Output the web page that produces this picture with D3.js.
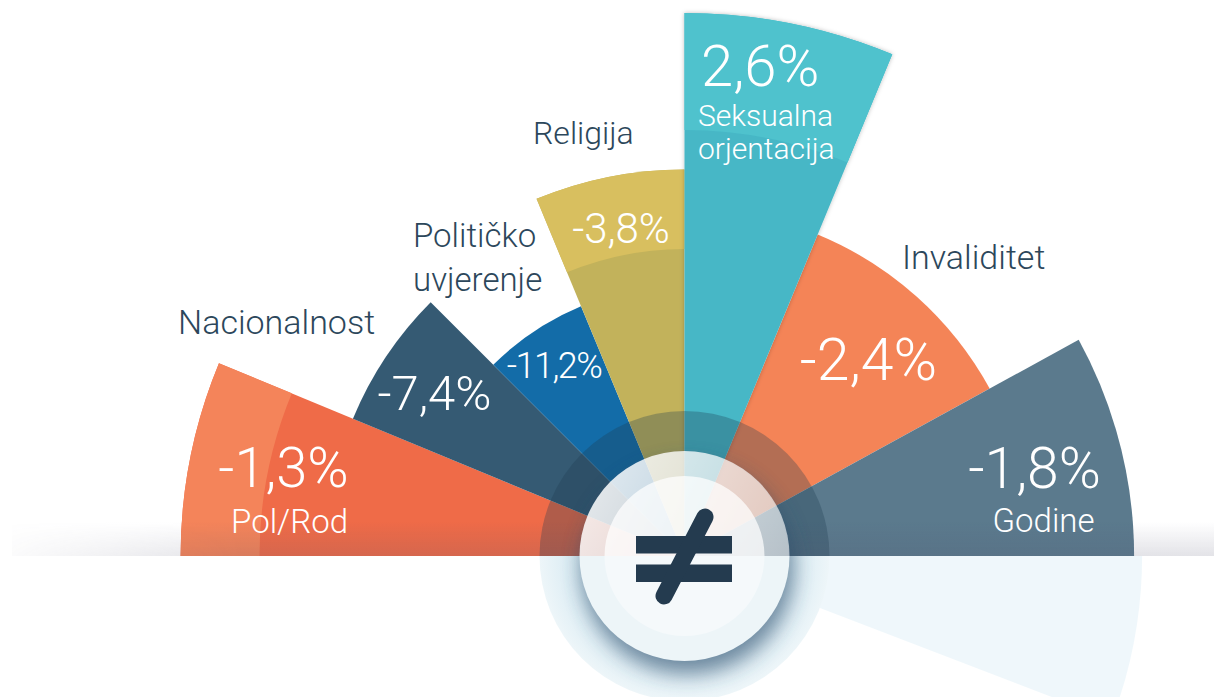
<!DOCTYPE html>
<html><head><meta charset="utf-8">
<script src="https://cdn.jsdelivr.net/npm/d3@7"></script>
<style>
html,body{margin:0;padding:0;background:#fff;}
svg{display:block;}
text{font-family:Roboto,"Open Sans",sans-serif;font-weight:300;}
</style></head><body>
<svg id="chart" width="1214" height="697"></svg>
<script>
// ---- data ----
const categories = ["Pol/Rod","Nacionalnost","Političko uvjerenje","Religija","Seksualna orjentacija","Invaliditet","Godine"];
const values = [-1.3, -7.4, -11.2, -3.8, 2.6, -2.4, -1.8];
const valueLabels = ["-1,3%","-7,4%","-11,2%","-3,8%","2,6%","-2,4%","-1,8%"];
const barLength = [92.8, 66.1, 49.8, 71.2, 100, 64.1, 82.8];      // relative bar length (0-100)
const angleShare = [22.5, 22.5, 22.5, 22.5, 22.5, 38.75, 49.75];  // angular share of each sector

// ---- layout / style ----
const W = 1214, H = 697, cx = 684.5, cy = 556;
const DARK = "#2c475b";
const fills = ["#ef6b48","#355a73","url(#gPol)","#c2b25b","#46b7c6","#f48457","#5b7a8d"];
const caps = [{r:425,c:"#f4845a"}, null, null, {r:307,c:"#d8bf5f"}, {r:426,c:"#4fc2cd"}, null, null];
const valueStyle = [
  {x:283.5, y:487, fs:56, a:"middle"},
  {x:434.5, y:410, fs:49, a:"middle"},
  {x:554,   y:378, fs:36, a:"middle", ls:-1.5},
  {x:621,   y:243, fs:42, a:"middle"},
  {x:701,   y:86,  fs:58, a:"start"},
  {x:868.5, y:380, fs:59, a:"middle"},
  {x:1034.5,y:488, fs:57, a:"middle"}
];
const catStyle = [
  {x:289.5, y:533, fs:33, a:"middle", fill:"#fff"},
  {x:178,   y:334, fs:34, a:"start",  fill:DARK},
  {x:413,   y:247, fs:33, a:"start",  fill:DARK, lh:44},
  {x:533,   y:144, fs:32, a:"start",  fill:DARK},
  {x:698,   y:126, fs:30, a:"start",  fill:"#fff", lh:33},
  {x:902,   y:269, fs:34, a:"start",  fill:DARK},
  {x:1043.5,y:532, fs:33, a:"middle", fill:"#fff"}
];

const svg = d3.select("#chart");
const defs = svg.append("defs");

defs.append("clipPath").attr("id","upper").append("rect")
  .attr("x",0).attr("y",0).attr("width",W).attr("height",cy);
defs.append("clipPath").attr("id","lower").append("rect")
  .attr("x",0).attr("y",cy).attr("width",W).attr("height",H-cy);

const gPol = defs.append("radialGradient").attr("id","gPol")
  .attr("gradientUnits","userSpaceOnUse").attr("cx",cx).attr("cy",cy).attr("r",272);
gPol.append("stop").attr("offset","0.5").attr("stop-color","#0a4c88");
gPol.append("stop").attr("offset","0.78").attr("stop-color","#0d5a99");
gPol.append("stop").attr("offset","0.8").attr("stop-color","#0f62a1");
gPol.append("stop").attr("offset","1").attr("stop-color","#136ca8");

const gRefl = defs.append("linearGradient").attr("id","gRefl")
  .attr("gradientUnits","userSpaceOnUse").attr("x1",0).attr("y1",cy).attr("x2",0).attr("y2",H);
gRefl.append("stop").attr("offset","0").attr("stop-color","#eff7fb");
gRefl.append("stop").attr("offset","1").attr("stop-color","#f8fcfd");

const gRing = defs.append("radialGradient").attr("id","gRing")
  .attr("gradientUnits","userSpaceOnUse").attr("cx",cx).attr("cy",cy).attr("r",146);
gRing.append("stop").attr("offset","0.7").attr("stop-color","#d4e8f1");
gRing.append("stop").attr("offset","1").attr("stop-color","#eef6f9");

const gShade = defs.append("linearGradient").attr("id","gShade")
  .attr("x1",0).attr("y1",0).attr("x2",0).attr("y2",1);
gShade.append("stop").attr("offset","0").attr("stop-color","#50506e").attr("stop-opacity",0);
gShade.append("stop").attr("offset","1").attr("stop-color","#50506e").attr("stop-opacity",0.16);
const gFadeX = defs.append("linearGradient").attr("id","gFadeX")
  .attr("gradientUnits","userSpaceOnUse").attr("x1",12).attr("y1",0).attr("x2",240).attr("y2",0);
gFadeX.append("stop").attr("offset","0").attr("stop-color","#fff").attr("stop-opacity",0.15);
gFadeX.append("stop").attr("offset","1").attr("stop-color","#fff").attr("stop-opacity",1);
defs.append("mask").attr("id","mFade").attr("maskUnits","userSpaceOnUse")
  .attr("x",0).attr("y",0).attr("width",W).attr("height",H)
  .append("rect").attr("x",0).attr("y",0).attr("width",W).attr("height",H).attr("fill","url(#gFadeX)");

const gWhite = defs.append("linearGradient").attr("id","gWhite")
  .attr("gradientUnits","userSpaceOnUse").attr("x1",cx-105).attr("y1",cy-105).attr("x2",cx+105).attr("y2",cy);
gWhite.append("stop").attr("offset","0").attr("stop-color","#fff").attr("stop-opacity",0.9);
gWhite.append("stop").attr("offset","1").attr("stop-color","#fff").attr("stop-opacity",0.6);

const fShadow = defs.append("filter").attr("id","fBlur")
  .attr("x","-50%").attr("y","-50%").attr("width","200%").attr("height","200%");
fShadow.append("feGaussianBlur").attr("stdDeviation",10);
const fSek = defs.append("filter").attr("id","fSek")
  .attr("x","-20%").attr("y","-20%").attr("width","140%").attr("height","140%");
fSek.append("feDropShadow").attr("dx",0).attr("dy",0).attr("stdDeviation",2)
  .attr("flood-color","#000").attr("flood-opacity",0.25);

const mHole = defs.append("mask").attr("id","mHole").attr("maskUnits","userSpaceOnUse")
  .attr("x",0).attr("y",0).attr("width",W).attr("height",H);
mHole.append("rect").attr("x",0).attr("y",0).attr("width",W).attr("height",H).attr("fill","#fff");
mHole.append("circle").attr("cx",cx).attr("cy",cy).attr("r",104).attr("fill","#000");

// ---- scales / layouts ----
const rScale = d3.scaleLinear().domain([0,100]).range([0,543]);
const data = categories.map((c,i)=>({cat:c, value:values[i], label:valueLabels[i], len:barLength[i], share:angleShare[i], i}));
const pie = d3.pie().sort(null).value(d=>d.share)
  .startAngle(-Math.PI/2).endAngle(-Math.PI/2 + d3.sum(angleShare)*Math.PI/180);
const arcs = pie(data);
const arc = d3.arc().innerRadius(0).outerRadius(d=>rScale(d.data.len));
const capArc = d3.arc().innerRadius(d=>caps[d.data.i].r).outerRadius(d=>rScale(d.data.len));

// ---- sectors (upper half) ----
const drawOrder = [0,1,2,3,5,6,4];
const up = svg.append("g").attr("clip-path","url(#upper)");
const upIn = up.append("g").attr("transform",`translate(${cx},${cy})`);
const secs = upIn.selectAll("g.sec").data(drawOrder.map(k=>arcs[k])).join("g").attr("class","sec")
  .attr("filter",d=>d.data.i===4?"url(#fSek)":null);
secs.append("path").attr("d",arc).attr("fill",d=>fills[d.data.i]);
secs.filter(d=>caps[d.data.i]).append("path").attr("d",capArc).attr("fill",d=>caps[d.data.i].c);

// dark translucent ring
up.append("circle").attr("cx",cx).attr("cy",cy).attr("r",145).attr("fill","rgba(30,60,80,0.3)");

// ---- lower half (reflection) ----
const low = svg.append("g").attr("clip-path","url(#lower)");
low.append("g").attr("transform",`translate(${cx},${cy})`)
  .append("path").attr("d",d3.arc().innerRadius(0).outerRadius(d=>rScale(d.data.len)+8)(arcs[6])).attr("fill","url(#gRefl)");
low.append("circle").attr("cx",cx).attr("cy",cy).attr("r",145).attr("fill","url(#gRing)");

// baseline shadow
svg.append("rect").attr("x",12).attr("y",522).attr("width",W-12).attr("height",cy-522)
  .attr("fill","url(#gShade)").attr("mask","url(#mFade)");

// ---- value labels ----
svg.append("g").selectAll("text").data(data).join("text")
  .attr("x",d=>valueStyle[d.i].x).attr("y",d=>valueStyle[d.i].y)
  .attr("text-anchor",d=>valueStyle[d.i].a)
  .attr("font-size",d=>valueStyle[d.i].fs)
  .attr("letter-spacing",d=>valueStyle[d.i].ls||0)
  .attr("fill","#fff").text(d=>d.label);

// ---- category labels ----
const cg = svg.append("g").selectAll("text").data(data).join("text")
  .attr("text-anchor",d=>catStyle[d.i].a)
  .attr("font-size",d=>catStyle[d.i].fs)
  .attr("fill",d=>catStyle[d.i].fill);
cg.selectAll("tspan").data(d=>d.cat.split(" ").map((t,k)=>({t,k,s:catStyle[d.i]}))).join("tspan")
  .attr("x",d=>d.s.x).attr("y",d=>d.s.y + d.k*(d.s.lh||0)).text(d=>d.t);

// ---- centre badge ----
svg.append("circle").attr("cx",cx+3).attr("cy",cy+12).attr("r",106)
  .attr("fill","#2b4b6b").attr("opacity",0.6).attr("filter","url(#fBlur)").attr("mask","url(#mHole)");
svg.append("circle").attr("cx",cx).attr("cy",cy).attr("r",105).attr("fill","url(#gWhite)").attr("clip-path","url(#upper)");
svg.append("circle").attr("cx",cx).attr("cy",cy).attr("r",105).attr("fill","#edf5f8").attr("clip-path","url(#lower)");
svg.append("circle").attr("cx",cx).attr("cy",cy).attr("r",80).attr("fill","#fff").attr("opacity",0.72).attr("clip-path","url(#upper)");
svg.append("circle").attr("cx",cx).attr("cy",cy).attr("r",80).attr("fill","#f5f9fb").attr("clip-path","url(#lower)");

const ne = svg.append("g").attr("fill","#243b4f");
ne.append("rect").attr("x",636).attr("y",536).attr("width",96).attr("height",17.5);
ne.append("rect").attr("x",636).attr("y",564.5).attr("width",96).attr("height",17.5);
ne.append("line").attr("x1",705).attr("y1",517).attr("x2",664).attr("y2",596)
  .attr("stroke","#243b4f").attr("stroke-width",17).attr("stroke-linecap","round");
</script>
</body></html>
